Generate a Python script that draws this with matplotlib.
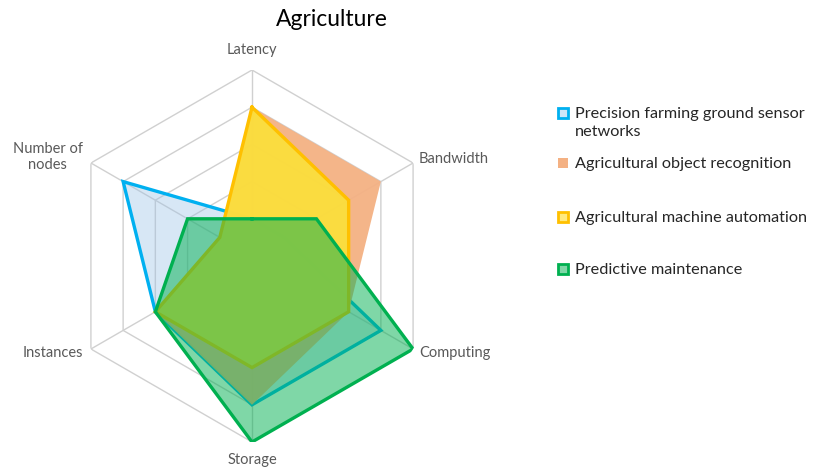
import numpy as np
import matplotlib
matplotlib.use("Agg")
import matplotlib.pyplot as plt
from matplotlib.patches import Rectangle

plt.rcParams['font.family'] = ['Lato', 'DejaVu Sans']

axes_labels = ["Latency", "Bandwidth", "Computing", "Storage", "Instances", "Number of\nnodes"]
series_names = ["Precision farming ground sensor\nnetworks",
                "Agricultural object recognition",
                "Agricultural machine automation",
                "Predictive maintenance"]
precision_farming = [1, 1, 4, 4, 3, 4]
object_recognition = [4, 4, 3, 4, 3, 1]
machine_automation = [4, 3, 3, 3, 3, 1]
predictive_maint = [1, 2, 5, 5, 3, 2]
levels = [1, 2, 3, 4, 5]

line_colors = ["#00B0F0", None, "#FFC000", "#00B050"]
fill_colors = ["#9DC3E6", "#F4B183", "#FCE62E", "#00B050"]
fill_alphas = [0.4, 0.95, 0.8, 0.5]
marker_inner = ["#CFE6F8", "#F4B183", "#FFE97F", "#7FD7A7"]

n = len(axes_labels)
angles = np.arange(n) * 2 * np.pi / n
ang_closed = np.append(angles, angles[0])

fig = plt.figure(figsize=(8.14, 4.70), dpi=100)
ax = fig.add_axes([66 / 814, 28 / 470, 372 / 814, 372 / 470], projection="polar")
ax.set_theta_offset(np.pi / 2)
ax.set_theta_direction(-1)
ax.set_ylim(0, 5)
ax.grid(False)
ax.spines["polar"].set_visible(False)
ax.set_xticks([])
ax.set_yticks([])
ax.patch.set_alpha(0)

# hexagonal grid
for lv in levels:
    ax.plot(ang_closed, [lv] * (n + 1), color="#D0D0D0", lw=1.0, zorder=1)
for a in angles:
    ax.plot([a, a], [0, levels[-1]], color="#D0D0D0", lw=1.0, zorder=1)

data = [precision_farming, object_recognition, machine_automation, predictive_maint]
for i, vals in enumerate(data):
    v = np.append(vals, vals[0])
    ax.fill(ang_closed, v, color=fill_colors[i], alpha=fill_alphas[i], lw=0, zorder=2 + i)
    if line_colors[i]:
        ax.plot(ang_closed, v, color=line_colors[i], lw=2.4, zorder=2 + i,
                solid_joinstyle="miter")

# category labels
offsets = [(0, 20), (6, 4), (6, -4), (0, -18), (-8, -4), (-8, 6)]
aligns = [("center", "center"), ("left", "center"), ("left", "center"),
          ("center", "center"), ("right", "center"), ("right", "center")]
for a, lab, off, (ha, va) in zip(angles, axes_labels, offsets, aligns):
    ax.annotate(lab, xy=(a, levels[-1]), xytext=off, textcoords="offset pixels",
                ha=ha, va=va, fontsize=10.5, color="#595959", multialignment="center",
                annotation_clip=False)

fig.text(332 / 814, 1 - 20 / 470, "Agriculture", ha="center", va="center",
         fontsize=16.5, color="#000000")

# legend
leg_y = [113, 163, 217, 269]
for i, name in enumerate(series_names):
    y = 1 - leg_y[i] / 470
    edge = line_colors[i] if line_colors[i] else fill_colors[i]
    fig.patches.append(Rectangle((558 / 814, y - 5 / 470), 10 / 814, 10 / 470,
                                 transform=fig.transFigure, facecolor=marker_inner[i],
                                 edgecolor=edge, lw=2 if line_colors[i] else 0))
    fig.text(575 / 814, y + 6 / 470, name, ha="left", va="top", fontsize=11.7,
             color="#262626", linespacing=1.4)

fig.savefig("out.png", dpi=100)
